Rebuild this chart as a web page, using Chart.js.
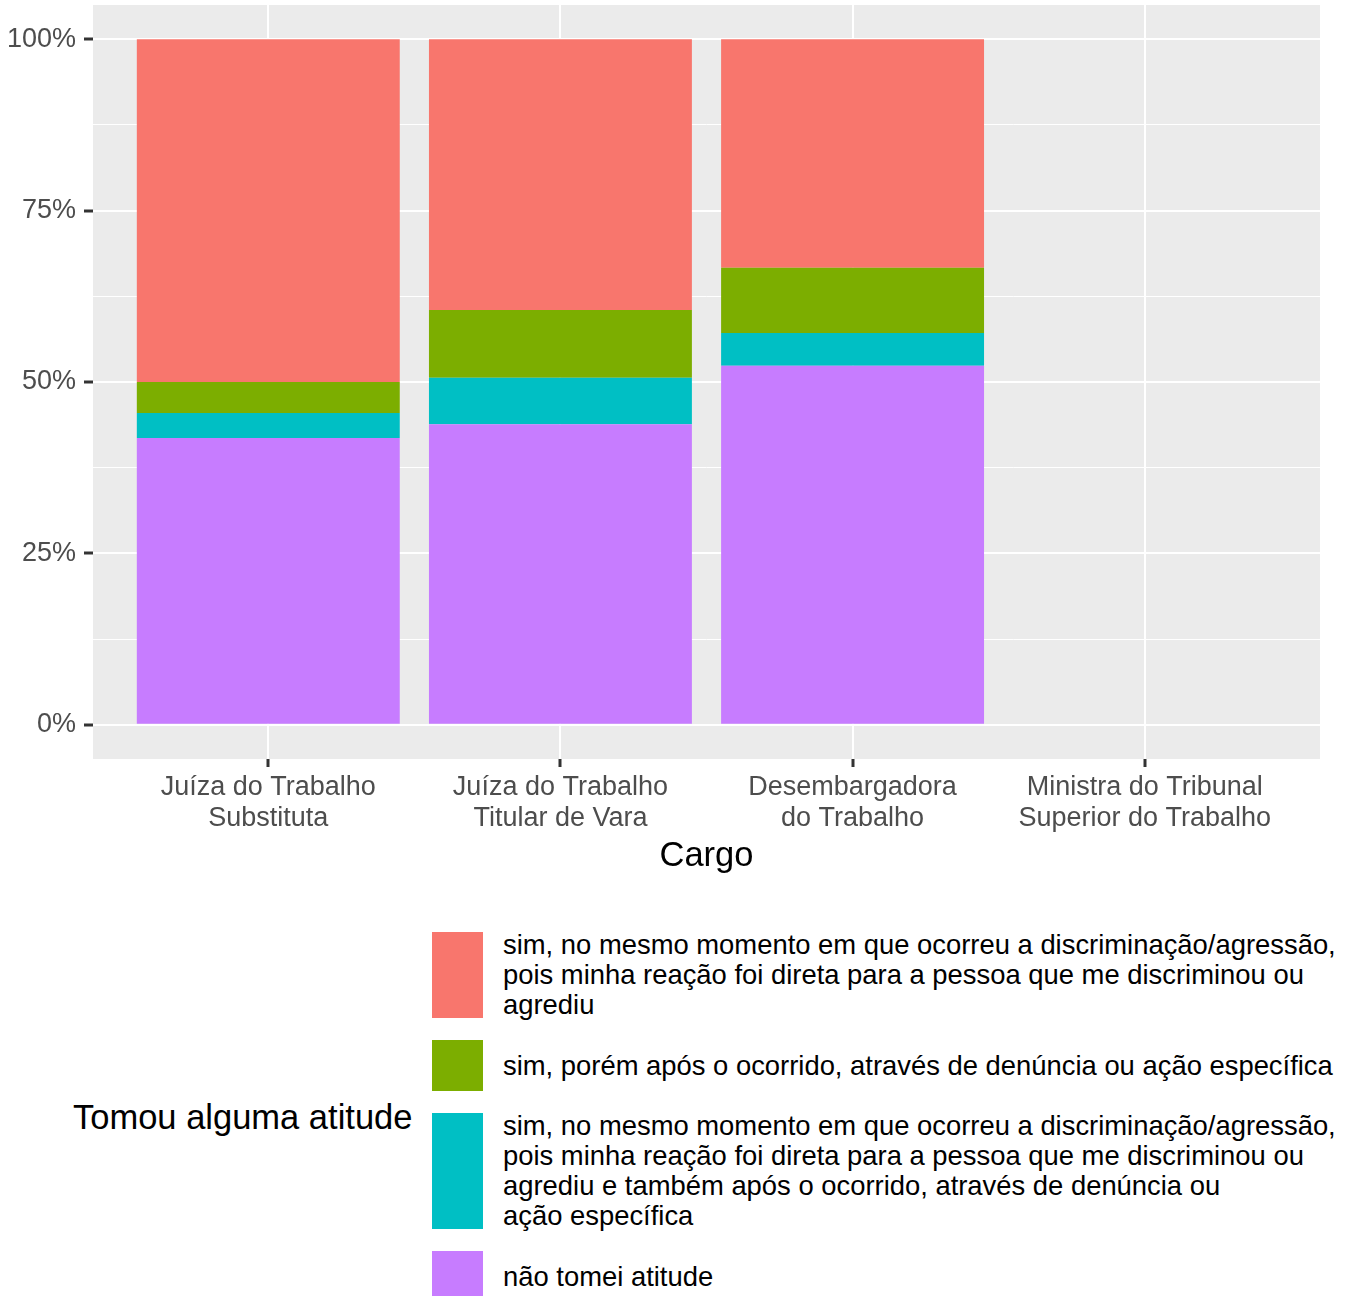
<!DOCTYPE html>
<html>
<head>
<meta charset="utf-8">
<script src="https://cdn.jsdelivr.net/npm/chart.js@4/dist/chart.umd.min.js"></script>
<style>
  body { margin: 0; background: #fff; width: 1357px; height: 1296px; overflow: hidden; position: relative;
         font-family: "Liberation Sans", Arial, sans-serif; }
  #chart { position: absolute; left: 0; top: 0; }
  #legendTitle { position: absolute; left: 73px; top: 1096px; font-size: 34.5px; line-height: 42px; color: #000; }
  #legend { position: absolute; left: 432px; top: 932px; }
  .item { display: flex; align-items: center; margin-bottom: 22px; }
  .key { width: 51px; align-self: stretch; min-height: 51px; flex: none; }
  .txt { margin: -2px 0 -2px 20px; font-size: 27.4px; line-height: 30px; color: #000; white-space: pre-line; }
</style>
</head>
<body>
<canvas id="chart" width="1357" height="880"></canvas>
<div id="legendTitle">Tomou alguma atitude</div>
<div id="legend"></div>
<script>
// categorias (cargo)
var categories = [
  ['Juíza do Trabalho', 'Substituta'],
  ['Juíza do Trabalho', 'Titular de Vara'],
  ['Desembargadora', 'do Trabalho'],
  ['Ministra do Tribunal', 'Superior do Trabalho']
];

// respostas, de baixo para cima na pilha
var seriesNames = [
  'não tomei atitude',
  'sim, no mesmo momento em que ocorreu a discriminação/agressão,\npois minha reação foi direta para a pessoa que me discriminou ou\nagrediu e também após o ocorrido, através de denúncia ou\nação específica',
  'sim, porém após o ocorrido, através de denúncia ou ação específica',
  'sim, no mesmo momento em que ocorreu a discriminação/agressão,\npois minha reação foi direta para a pessoa que me discriminou ou\nagrediu'
];
var seriesColors = ['#C77CFF', '#00BFC4', '#7CAE00', '#F8766D'];

// percentuais por cargo
var naoTomei   = [41.82, 43.83, 52.38, 0];
var ambos      = [3.64, 6.79, 4.76, 0];
var aposOcorr  = [4.55, 9.88, 9.52, 0];
var mesmoMom   = [50.0, 39.50, 33.34, 0];

var yTicks = [0, 12.5, 25, 37.5, 50, 62.5, 75, 87.5, 100];

var values = [naoTomei, ambos, aposOcorr, mesmoMom];

var panelBg = {
  id: 'panelBg',
  beforeDraw: function(chart) {
    var a = chart.chartArea, c = chart.ctx;
    c.save();
    c.fillStyle = '#EBEBEB';
    c.fillRect(a.left, a.top, a.right - a.left, a.bottom - a.top);
    c.restore();
  }
};

var datasets = values.map(function(vals, k) {
  return {
    label: seriesNames[k],
    data: vals.map(function(v, i) { return {x: i + 1, y: v}; }),
    backgroundColor: seriesColors[k],
    borderWidth: 0,
    barPercentage: 0.9,
    categoryPercentage: 1
  };
});

var fam = '"Liberation Sans", Arial, sans-serif';

var ctx = document.getElementById('chart').getContext('2d');
var myChart = new Chart(ctx, {
  type: 'bar',
  data: { datasets: datasets },
  plugins: [panelBg],
  options: {
    responsive: false,
    animation: false,
    layout: { padding: { left: 0, right: 37, top: 5, bottom: 0 } },
    plugins: { legend: { display: false }, tooltip: { enabled: false } },
    scales: {
      x: {
        type: 'linear',
        stacked: true,
        offset: false,
        min: 0.4,
        max: 4.6,
        afterBuildTicks: function(s) { s.ticks = categories.map(function(c, i) { return {value: i + 1}; }); },
        afterFit: function(s) { s.height = 121; s.paddingLeft = 0; s.paddingRight = 0; },
        ticks: {
          callback: function(v) { return categories[v - 1]; },
          color: '#4D4D4D',
          font: { family: fam, size: 27, lineHeight: 1.15 },
          padding: 5,
          autoSkip: false,
          maxRotation: 0
        },
        grid: { offset: false, color: '#FFFFFF', lineWidth: 2, tickColor: '#333333', tickLength: 8, tickWidth: 3 },
        border: { display: false },
        title: {
          display: true,
          text: 'Cargo',
          color: '#000',
          font: { family: fam, size: 34.5 },
          padding: { top: 0, bottom: 3 }
        }
      },
      y: {
        stacked: true,
        min: -5,
        max: 105,
        afterBuildTicks: function(s) { s.ticks = yTicks.map(function(v) { return {value: v}; }); },
        afterFit: function(s) { s.width = 93; s.paddingTop = 0; s.paddingBottom = 0; },
        ticks: {
          callback: function(v) { return v % 25 === 0 ? v + '%' : ''; },
          color: '#4D4D4D',
          font: { family: fam, size: 27 },
          padding: 8,
          autoSkip: false
        },
        grid: {
          color: '#FFFFFF',
          lineWidth: function(c) { return c.tick && c.tick.value % 25 === 0 ? 2 : 1; },
          tickColor: function(c) { return c.tick && c.tick.value % 25 === 0 ? '#333333' : 'rgba(0,0,0,0)'; },
          tickLength: 9,
          tickWidth: 3
        },
        border: { display: false }
      }
    }
  }
});

// legenda (mesma ordem do ggplot: topo da pilha primeiro)
var legend = document.getElementById('legend');
for (var k = seriesNames.length - 1; k >= 0; k--) {
  var row = document.createElement('div');
  row.className = 'item';
  var key = document.createElement('div');
  key.className = 'key';
  key.style.background = seriesColors[k];
  var txt = document.createElement('div');
  txt.className = 'txt';
  txt.textContent = seriesNames[k];
  row.appendChild(key);
  row.appendChild(txt);
  legend.appendChild(row);
}
</script>
</body>
</html>
